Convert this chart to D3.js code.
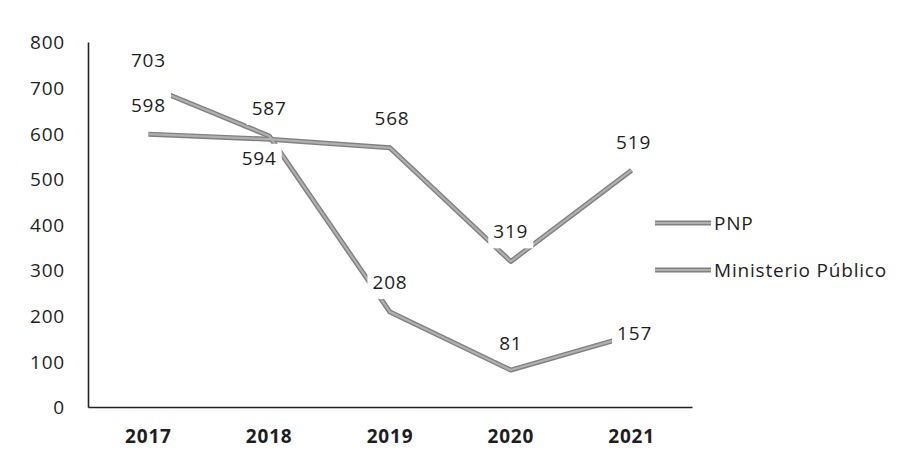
<!DOCTYPE html>
<meta charset="utf-8">
<style>
    body {
        margin: 0;
        background: #fff;
    }
    svg text {
        font-family: "Open Sans", Lato, sans-serif;
        font-size: 19px;
        letter-spacing: 0.8px;
        fill: #1e1e1e;
    }
    .axis path {
        stroke: #222;
        stroke-width: 1.6;
    }
    .x.axis text {
        font-weight: bold;
    }
    path.line-outer {
        fill: none;
        stroke: #808080;
        stroke-width: 5;
        stroke-linejoin: round;
    }
    path.line-inner {
        fill: none;
        stroke: #b0b0b0;
        stroke-width: 2.2;
        stroke-linejoin: round;
    }
</style>
<body>
<script src="https://cdn.jsdelivr.net/npm/d3@7"></script>
<script>

    var years = ["2017", "2018", "2019", "2020", "2021"];
    var pnp = [598, 587, 568, 319, 519];
    var ministerio = [703, 594, 208, 81, 157];
    var yTicks = [0, 100, 200, 300, 400, 500, 600, 700, 800];
    var seriesNames = ["PNP", "Ministerio Público"];

    // where each data label sits relative to its point (manual placement like the original)
    var labelOffsets = [
        [[0, -29], [0, -31], [2, -30], [0, -30], [2, -28]],
        [[0, -26], [-10, 22], [0, -30], [0, -27], [3, -2]]
    ];

    var width = 900, height = 470;

    var x = d3.scaleBand()
            .domain(years)
            .range([88, 692]);

    var y = d3.scaleLinear()
            .domain([0, 800])
            .range([407, 42]);

    var svg = d3.select("body").append("svg")
            .attr("width", width)
            .attr("height", height);

    var series = [pnp, ministerio].map(function(values, i) {
        return {
            name: seriesNames[i],
            points: values.map(function(v, j) { return {year: years[j], value: v, off: labelOffsets[i][j]}; })
        };
    });

    var line = d3.line()
            .x(function(d) { return x(d.year) + x.bandwidth() / 2; })
            .y(function(d) { return y(d.value); });

    svg.append("g")
            .attr("class", "y axis")
            .attr("transform", "translate(88,0)")
            .call(d3.axisLeft(y).tickValues(yTicks).tickSize(0).tickPadding(23))
        .selectAll("text")
            .attr("dy", "0.36em");

    svg.append("g")
            .attr("class", "x axis")
            .attr("transform", "translate(0,407)")
            .call(d3.axisBottom(x).tickSize(0).tickPadding(23).tickSizeOuter(0));

    var lines = svg.append("g").attr("class", "lines");

    lines.selectAll("path.line-outer")
            .data(series)
        .enter().append("path")
            .attr("class", "line-outer")
            .attr("d", function(d) { return line(d.points); });

    lines.selectAll("path.line-inner")
            .data(series)
        .enter().append("path")
            .attr("class", "line-inner")
            .attr("d", function(d) { return line(d.points); });

    // data labels with white boxes that mask the lines underneath
    var labels = svg.append("g").attr("class", "label");

    series.forEach(function(s) {
        s.points.forEach(function(p) {
            var cx = x(p.year) + x.bandwidth() / 2 + p.off[0],
                cy = y(p.value) + p.off[1];
            var g = labels.append("g");
            var t = g.append("text")
                    .attr("x", cx)
                    .attr("y", cy)
                    .attr("dy", "0.36em")
                    .attr("text-anchor", "middle")
                    .text(p.value);
            var bb = t.node().getBBox(),
                padTop = p.off[1] > 0 ? 1 : 9;
            g.insert("rect", "text")
                    .attr("x", bb.x - 5)
                    .attr("y", bb.y - padTop)
                    .attr("width", bb.width + 10)
                    .attr("height", bb.height + padTop + 4)
                    .attr("fill", "#fff");
        });
    });

    var legend = svg.append("g")
            .attr("class", "legend")
            .selectAll("g")
            .data(series)
        .enter().append("g")
            .attr("transform", function(d, i) { return "translate(655," + (223 + i * 47) + ")"; });

    legend.append("line")
            .attr("x2", 56)
            .attr("stroke", "#808080")
            .attr("stroke-width", 5);

    legend.append("line")
            .attr("x2", 56)
            .attr("stroke", "#b0b0b0")
            .attr("stroke-width", 2.2);

    legend.append("text")
            .attr("x", 59)
            .attr("dy", "0.36em")
            .text(function(d) { return d.name; });

</script>
